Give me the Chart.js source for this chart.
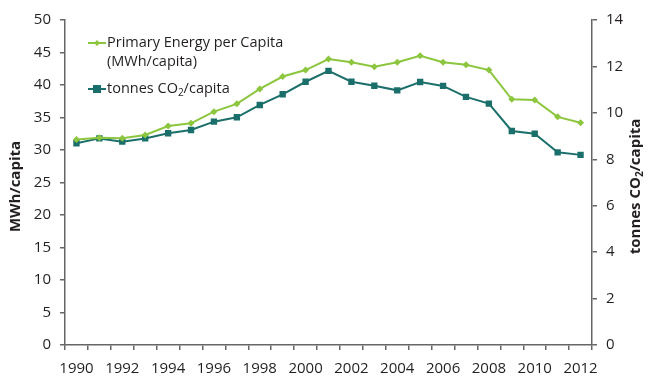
<!DOCTYPE html>
<html>
<head>
<meta charset="utf-8">
<style>
  html, body { margin: 0; padding: 0; background: #fff; }
  #wrap { width: 650px; height: 386px; position: relative; }
</style>
<script src="https://cdn.jsdelivr.net/npm/chart.js@4.4.1/dist/chart.umd.min.js"></script>
</head>
<body>
<div id="wrap"><canvas id="chart"></canvas></div>
<script>
const years = ['1990', '1991', '1992', '1993', '1994', '1995', '1996', '1997', '1998', '1999', '2000', '2001',
  '2002', '2003', '2004', '2005', '2006', '2007', '2008', '2009', '2010', '2011', '2012']

// MWh per capita (left axis)
const energyPerCapita = [31.6, 31.9, 31.8, 32.3, 33.7, 34.1, 35.9, 37.1, 39.4, 41.3, 42.3, 44.0,
  43.5, 42.8, 43.5, 44.5, 43.5, 43.1, 42.3, 37.8, 37.7, 35.1, 34.2]

// tonnes CO2 per capita (right axis)
const co2PerCapita = [8.69, 8.90, 8.76, 8.90, 9.12, 9.26, 9.62, 9.81, 10.34, 10.80, 11.34, 11.81,
  11.34, 11.17, 10.97, 11.33, 11.16, 10.69, 10.40, 9.22, 9.10, 8.30, 8.19]

const green = '#8cc63e'
const teal = '#1b6f6a'
const axisColor = '#666666'
const textColor = '#231f20'
const fontFamily = '"Open Sans", "Noto Sans", sans-serif'

// draws the legend inside the plot and both axis titles (CO2 needs a subscript)
const overlay = {
  id: 'overlay',
  afterDraw(chart) {
    const ctx = chart.ctx
    const area = chart.chartArea
    ctx.save()
    ctx.fillStyle = textColor
    ctx.textBaseline = 'middle'

    // legend
    const lx = 88, lw = 18
    const legendFont = '14.5px ' + fontFamily
    ctx.font = legendFont
    ctx.strokeStyle = green
    ctx.lineWidth = 2
    ctx.beginPath(); ctx.moveTo(lx, 43); ctx.lineTo(lx + lw, 43); ctx.stroke()
    ctx.fillStyle = green
    ctx.beginPath()
    ctx.moveTo(lx + lw / 2, 40); ctx.lineTo(lx + lw / 2 + 3, 43); ctx.lineTo(lx + lw / 2, 46); ctx.lineTo(lx + lw / 2 - 3, 43)
    ctx.closePath(); ctx.fill()
    ctx.fillStyle = textColor
    ctx.fillText('Primary Energy per Capita', lx + lw + 1, 43)
    ctx.fillText('(MWh/capita)', lx + lw + 1, 62)

    ctx.strokeStyle = teal
    ctx.beginPath(); ctx.moveTo(lx, 89); ctx.lineTo(lx + lw, 89); ctx.stroke()
    ctx.fillStyle = teal
    ctx.fillRect(lx + lw / 2 - 4, 85, 8, 8)
    ctx.fillStyle = textColor
    let x = lx + lw + 1
    ctx.fillText('tonnes CO', x, 89)
    x += ctx.measureText('tonnes CO').width
    ctx.font = '10px ' + fontFamily
    ctx.fillText('2', x, 93)
    x += ctx.measureText('2').width
    ctx.font = legendFont
    ctx.fillText('/capita', x, 89)

    // axis titles
    const cy = (area.top + area.bottom) / 2 + 4
    ctx.textAlign = 'center'
    ctx.font = 'bold 15px ' + fontFamily
    ctx.save()
    ctx.translate(16, cy)
    ctx.rotate(-Math.PI / 2)
    ctx.fillText('MWh/capita', 0, 0)
    ctx.restore()

    ctx.save()
    ctx.translate(636, cy)
    ctx.rotate(-Math.PI / 2)
    ctx.textAlign = 'left'
    const parts = [['tonnes CO', 'bold 15px ', 0], ['2', 'bold 10px ', 4], ['/capita', 'bold 15px ', 0]]
    let total = 0
    parts.forEach(p => { ctx.font = p[1] + fontFamily; total += ctx.measureText(p[0]).width })
    let px = -total / 2
    parts.forEach(p => {
      ctx.font = p[1] + fontFamily
      ctx.fillText(p[0], px, p[2])
      px += ctx.measureText(p[0]).width
    })
    ctx.restore()

    ctx.restore()
  }
}

new Chart(document.getElementById('chart'), {
  type: 'line',
  data: {
    labels: years,
    datasets: [{
      label: 'Primary Energy per Capita (MWh/capita)',
      data: energyPerCapita,
      yAxisID: 'y',
      borderColor: green,
      backgroundColor: green,
      borderWidth: 2,
      pointStyle: 'rectRot',
      pointRadius: 3.5,
      pointBorderWidth: 0,
      tension: 0,
    }, {
      label: 'tonnes CO2/capita',
      data: co2PerCapita,
      yAxisID: 'y2',
      borderColor: teal,
      backgroundColor: teal,
      borderWidth: 2,
      pointStyle: 'rect',
      pointRadius: 4.5,
      pointBorderWidth: 0,
      tension: 0,
    }]
  },
  options: {
    responsive: true,
    maintainAspectRatio: false,
    animation: false,
    layout: { padding: { top: 20 } },
    plugins: {
      legend: { display: false },
      tooltip: { enabled: false },
    },
    scales: {
      x: {
        offset: true,
        afterFit(scale) { scale.height = 41 },
        grid: { drawOnChartArea: false, offset: true, color: axisColor, tickLength: 5, lineWidth: 1.5 },
        border: { color: axisColor, width: 1.5 },
        ticks: {
          autoSkip: false,
          maxRotation: 0,
          padding: 10,
          color: textColor,
          font: { family: fontFamily, size: 15 },
          callback(value, index) { return index % 2 === 0 ? years[index] : '' },
        },
      },
      y: {
        position: 'left',
        min: 0,
        max: 50,
        afterFit(scale) { scale.width = 65 },
        grid: { drawOnChartArea: false, color: axisColor, tickLength: 5, lineWidth: 1.5 },
        border: { color: axisColor, width: 1.5 },
        ticks: { stepSize: 5, padding: 9, color: textColor, font: { family: fontFamily, size: 15 } },
      },
      y2: {
        position: 'right',
        min: 0,
        max: 14,
        afterFit(scale) { scale.width = 58 },
        grid: { drawOnChartArea: false, color: axisColor, tickLength: 5, lineWidth: 1.5 },
        border: { color: axisColor, width: 1.5 },
        ticks: { stepSize: 2, padding: 9, color: textColor, font: { family: fontFamily, size: 15 } },
      },
    },
  },
  plugins: [overlay],
})
</script>
</body>
</html>
